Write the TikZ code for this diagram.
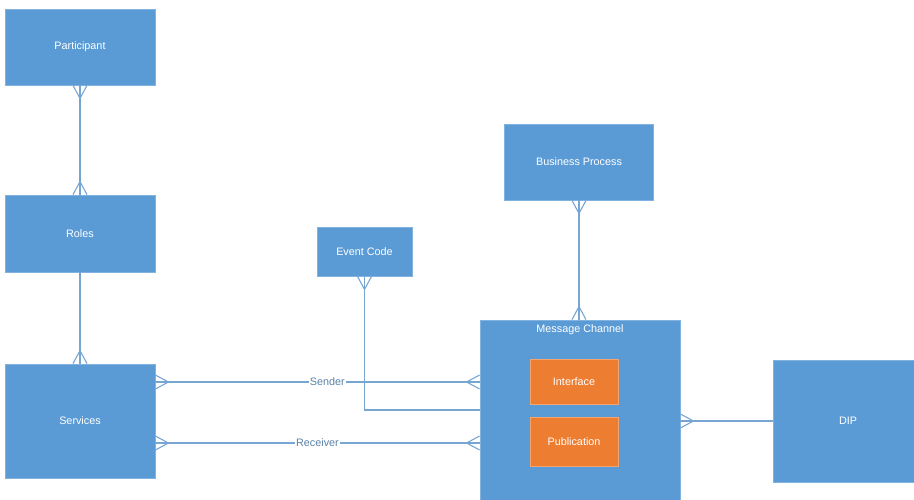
\documentclass[tikz,border=0pt]{standalone}
\usepackage{fontspec}
\setmainfont{Liberation Sans}
\usetikzlibrary{calc}
\definecolor{boxblue}{HTML}{5B9BD5}
\definecolor{boxedge}{HTML}{82B3E0}
\definecolor{orng}{HTML}{ED7D31}
\definecolor{orngedge}{HTML}{F4A46E}
\definecolor{linec}{HTML}{78A6D3}
\definecolor{lblc}{HTML}{5A82A8}
\tikzset{
  box/.style={draw=boxedge, line width=0.8pt, fill=boxblue, text=white, inner sep=0pt,
    font=\fontsize{10.8}{13}\selectfont},
  sub/.style={draw=orngedge, line width=0.8pt, fill=orng, text=white, inner sep=0pt,
    font=\fontsize{10.8}{13}\selectfont},
  conn/.style={draw=linec, line width=1.1pt},
  lbl/.style={fill=white, text=lblc, inner sep=1pt, font=\fontsize{10.8}{13}\selectfont},
}
\newcommand\crowat[2]{%
  \draw[conn] ($(#1)+(#2+90:7pt)$) -- ($(#1)+(#2:13pt)$) -- ($(#1)+(#2-90:7pt)$);}
\begin{document}
\begin{tikzpicture}[x=1pt,y=-1pt]
\clip (0,0) rectangle (914,499);
\fill[white] (0,0) rectangle (914,499);

\node[box, minimum width=150, minimum height=76] (part) at (80,47) {Participant};
\node[box, minimum width=150, minimum height=77] (roles) at (80,233.5) {Roles};
\node[box, minimum width=150, minimum height=114] (serv) at (80,421) {Services};
\node[box, minimum width=95, minimum height=49] (ev) at (364.5,251.5) {Event Code};
\node[box, minimum width=149, minimum height=76] (bp) at (579,162) {Business Process};
\node[box, minimum width=200, minimum height=180,
  label={[text=white, anchor=north, inner sep=0pt, yshift=-5pt, font=\fontsize{10.8}{13}\selectfont]north:Message Channel}] (mc) at (580,410) {};
\node[sub, minimum width=88, minimum height=45] (intf) at (574,381.5) {Interface};
\node[sub, minimum width=88, minimum height=49] (pub) at (574,441.5) {Publication};
\node[box, minimum width=150, minimum height=122] (dip) at (848,421) {DIP};

% Participant - Roles
\draw[conn] (part.south) -- (roles.north);
\crowat{part.south}{-90}
\crowat{roles.north}{90}
% Roles - Services
\draw[conn] (roles.south) -- (serv.north);
\crowat{serv.north}{90}
% Sender
\coordinate (snd1) at ($(serv.east)+(0,-39)$);
\coordinate (snd2) at (snd1 -| mc.west);
\draw[conn] (snd1) -- (snd2) node[lbl, pos=0.53] {Sender};
\crowat{snd1}{0}
\crowat{snd2}{180}
% Receiver
\coordinate (rcv1) at ($(serv.east)+(0,22)$);
\coordinate (rcv2) at (rcv1 -| mc.west);
\draw[conn] (rcv1) -- (rcv2) node[lbl, pos=0.5] {Receiver};
\crowat{rcv1}{0}
\crowat{rcv2}{180}
% Event Code
\draw[conn] (ev.south) |- (mc.west);
\crowat{ev.south}{-90}
% Business Process
\coordinate (bpm) at (bp.south |- mc.north);
\draw[conn] (bp.south) -- (bpm);
\crowat{bp.south}{-90}
\crowat{bpm}{90}
% DIP
\coordinate (mcd) at (mc.east |- dip.west);
\draw[conn] (mcd) -- (dip.west);
\crowat{mcd}{0}
\end{tikzpicture}
\end{document}
